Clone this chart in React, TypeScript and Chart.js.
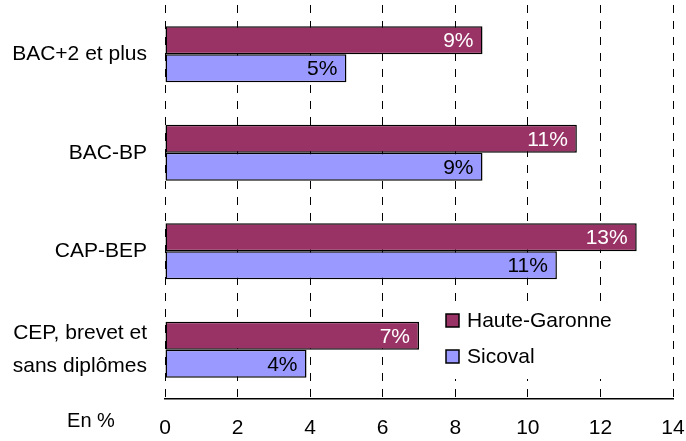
import React, { useEffect, useRef } from "react";
import { Chart, registerables } from "chart.js";

Chart.register(...registerables);

const categories: (string | string[])[] = [
  "BAC+2 et plus",
  "BAC-BP",
  "CAP-BEP",
  ["CEP, brevet et", "sans diplômes"],
];
const hauteGaronne = [8.75, 11.35, 13.0, 7.0];
const sicoval = [5.0, 8.75, 10.8, 3.9];
const seriesNames = ["Haute-Garonne", "Sicoval"];
const seriesColors = ["#993366", "#9999FF"];
const labelColors = ["#FFFFFF", "#000000"];
const xTicks = [0, 2, 4, 6, 8, 10, 12, 14];
const unitLabel = "En %";

const FONT = "'Liberation Sans', Arial, sans-serif";

const valueLabels = {
  id: "valueLabels",
  afterDatasetsDraw(chart: any) {
    const ctx = chart.ctx;
    ctx.save();
    ctx.font = `21px ${FONT}`;
    ctx.textAlign = "right";
    ctx.textBaseline = "middle";
    chart.data.datasets.forEach((ds: any, di: number) => {
      const meta = chart.getDatasetMeta(di);
      meta.data.forEach((bar: any, i: number) => {
        const v = ds.data[i];
        ctx.fillStyle = labelColors[di];
        ctx.fillText(`${Math.round(v)}%`, bar.x - 9, bar.y + 1);
      });
    });
    ctx.restore();
  },
};

const insideLegend = {
  id: "insideLegend",
  afterDatasetsDraw(chart: any) {
    const ctx = chart.ctx;
    ctx.save();
    ctx.fillStyle = "#FFFFFF";
    ctx.fillRect(438, 301, 184, 78);
    ctx.font = `21px ${FONT}`;
    ctx.textAlign = "left";
    ctx.textBaseline = "middle";
    const rows = [321, 357];
    chart.data.datasets.forEach((ds: any, di: number) => {
      const y = rows[di];
      ctx.fillStyle = ds.backgroundColor;
      ctx.fillRect(446, y - 7, 13, 13);
      ctx.lineWidth = 1.5;
      ctx.strokeStyle = "#000";
      ctx.strokeRect(446, y - 7, 13, 13);
      ctx.fillStyle = "#000";
      ctx.fillText(ds.label, 467, y);
    });
    ctx.textAlign = "center";
    ctx.font = `20px ${FONT}`;
    ctx.fillText(unitLabel, 91, 421);
    ctx.restore();
  },
};

export default function App() {
  const ref = useRef<HTMLCanvasElement | null>(null);
  useEffect(() => {
    if (!ref.current) return;
    const chart = new Chart(ref.current, {
      type: "bar",
      data: {
        labels: categories as any,
        datasets: [
          {
            label: seriesNames[0],
            data: hauteGaronne,
            backgroundColor: seriesColors[0],
            borderColor: "#000",
            borderWidth: 1.5,
            borderSkipped: false,
            categoryPercentage: 0.57,
            barPercentage: 1,
          },
          {
            label: seriesNames[1],
            data: sicoval,
            backgroundColor: seriesColors[1],
            borderColor: "#000",
            borderWidth: 1.5,
            borderSkipped: false,
            categoryPercentage: 0.57,
            barPercentage: 1,
          },
        ],
      },
      options: {
        indexAxis: "y",
        animation: false,
        responsive: true,
        maintainAspectRatio: false,
        layout: { padding: { top: 5, right: 13, left: 0, bottom: 0 } },
        plugins: {
          legend: { display: false },
          tooltip: { enabled: false },
        },
        scales: {
          x: {
            min: 0,
            max: 14,
            afterBuildTicks: (scale: any) => {
              scale.ticks = xTicks.map((v) => ({ value: v }));
            },
            afterFit: (scale: any) => {
              scale.height = 42;
              scale.paddingLeft = 0;
              scale.paddingRight = 0;
              scale.paddingTop = 0;
              scale.paddingBottom = 0;
            },
            grid: {
              color: "#000",
              lineWidth: 1,
              drawTicks: false,
            },
            border: {
              display: true,
              color: "#000",
              width: 1.5,
              dash: [8, 8],
            },
            ticks: {
              color: "#000",
              padding: 17,
              maxRotation: 0,
              font: { family: FONT, size: 21 },
            },
          },
          y: {
            afterFit: (scale: any) => {
              scale.width = 165;
              scale.paddingLeft = 0;
              scale.paddingRight = 0;
              scale.paddingTop = 0;
              scale.paddingBottom = 0;
            },
            grid: { display: false, drawTicks: false },
            border: { display: false },
            ticks: {
              color: "#000",
              padding: 18,
              font: { family: FONT, size: 21, lineHeight: 1.57 },
            },
          },
        },
      },
      plugins: [valueLabels, insideLegend],
    });
    return () => chart.destroy();
  }, []);
  return (
    <div style={{ position: "absolute", left: 0, top: 0, width: 686, height: 441 }}>
      <canvas ref={ref} />
    </div>
  );
}
